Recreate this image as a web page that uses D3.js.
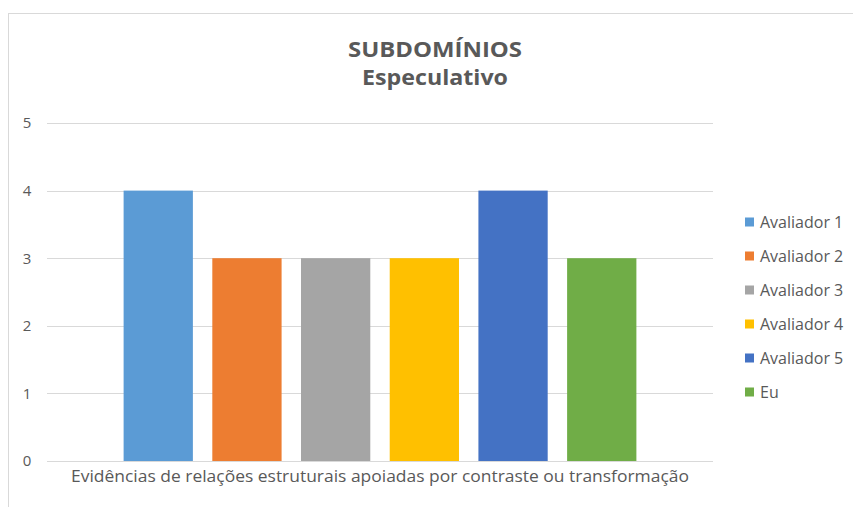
<!DOCTYPE html>
<html><head><meta charset="utf-8">
<script src="https://cdn.jsdelivr.net/npm/d3@7"></script>
<style>html,body{margin:0;padding:0;background:#fff}</style>
</head><body>
<svg id="c" width="853" height="507"></svg>
<script>
const titleLines = ["SUBDOMÍNIOS", "Especulativo"];
const category = "Evidências de relações estruturais apoiadas por contraste ou transformação";
const seriesNames = ["Avaliador 1", "Avaliador 2", "Avaliador 3", "Avaliador 4", "Avaliador 5", "Eu"];
const seriesValues = [4, 3, 3, 3, 4, 3];
const seriesColors = ["#5B9BD5", "#ED7D31", "#A5A5A5", "#FFC000", "#4472C4", "#70AD47"];
const yTicks = [0, 1, 2, 3, 4, 5];

const svg = d3.select("#c");
const font = "'Open Sans', 'DejaVu Sans', sans-serif";
const txt = "#595959";

// chart border
svg.append("rect").attr("x", 8.5).attr("y", 13.5).attr("width", 900).attr("height", 600)
  .attr("fill", "none").attr("stroke", "#d9d9d9").attr("stroke-width", 1);

const plot = {left: 47, right: 713, top: 123, bottom: 461};
const y = d3.scaleLinear().domain([0, 5]).range([plot.bottom, plot.top]);
const x0 = d3.scaleBand().domain([category]).range([plot.left, plot.right]).paddingInner(0).paddingOuter(0.1257);
const x1 = d3.scaleBand().domain(seriesNames).range([0, x0.bandwidth()]).paddingInner(0.219).paddingOuter(0.1095);

// gridlines
svg.append("g").selectAll("line").data(yTicks).join("line")
  .attr("x1", plot.left).attr("x2", plot.right)
  .attr("y1", d => Math.round(y(d)) + 0.5).attr("y2", d => Math.round(y(d)) + 0.5)
  .attr("stroke", "#d9d9d9").attr("stroke-width", 1);

// y axis labels
const yAxis = d3.axisLeft(y).tickValues(yTicks).tickSize(0).tickPadding(0).tickFormat(d3.format("d"));
const ga = svg.append("g").attr("transform", `translate(27,0)`).call(yAxis);
ga.select(".domain").remove();
ga.selectAll("text").attr("fill", txt).style("font-family", font).style("font-size", "15px")
  .attr("text-anchor", "middle").attr("x", 0);

// bars
svg.append("g").selectAll("rect").data(seriesValues).join("rect")
  .attr("x", (d, i) => x0(category) + x1(seriesNames[i]))
  .attr("width", x1.bandwidth())
  .attr("y", d => y(d))
  .attr("height", d => y(0) - y(d))
  .attr("fill", (d, i) => seriesColors[i]);

// category label
svg.append("text").attr("x", 380).attr("y", 482)
  .attr("text-anchor", "middle").attr("fill", txt)
  .style("font-family", font).style("font-size", "15.5px")
  .attr("textLength", 618).attr("lengthAdjust", "spacingAndGlyphs")
  .text(category);

// title
const titleWidths = [174, 146];
svg.append("g").selectAll("text").data(titleLines).join("text")
  .attr("x", 435).attr("y", (d, i) => 57 + i * 28)
  .attr("text-anchor", "middle").attr("fill", txt)
  .style("font-family", font).style("font-size", "21px").style("font-weight", "bold")
  .attr("textLength", (d, i) => titleWidths[i]).attr("lengthAdjust", "spacingAndGlyphs")
  .text(d => d);

// legend
const lg = svg.append("g").selectAll("g").data(seriesNames).join("g")
  .attr("transform", (d, i) => `translate(745,${222 + i * 34})`);
lg.append("rect").attr("x", 0).attr("y", -4.5).attr("width", 9).attr("height", 9)
  .attr("fill", (d, i) => seriesColors[i]);
lg.append("text").attr("x", 15).attr("y", 6).attr("fill", txt)
  .style("font-family", font).style("font-size", "16px").text(d => d);
</script>
</body></html>
